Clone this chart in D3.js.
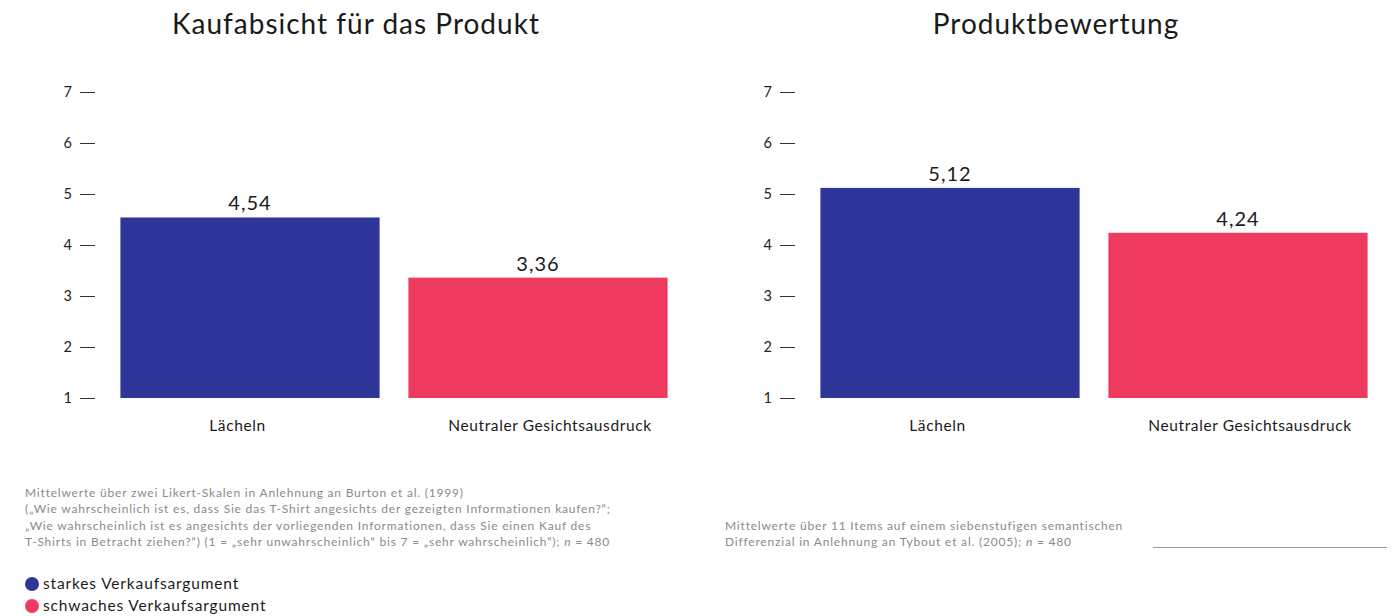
<!DOCTYPE html>
<html>
<head>
<meta charset="utf-8">
<script src="https://cdn.jsdelivr.net/npm/d3@7"></script>
<style>
  body { margin: 0; background: #fff; }
  svg { font-family: Lato, "Open Sans", sans-serif; }
</style>
</head>
<body>
<svg width="1395" height="616"></svg>
<script>
const categories = ['Lächeln', 'Neutraler Gesichtsausdruck']
const kaufabsicht = [4.54, 3.36]
const bewertung = [5.12, 4.24]
const titles = ['Kaufabsicht für das Produkt', 'Produktbewertung']
const yTicks = [1, 2, 3, 4, 5, 6, 7]
const legendLabels = ['starkes Verkaufsargument', 'schwaches Verkaufsargument']
// each line split into parts, the middle part (if any) is the italic n
const notesLeft = [
  ['Mittelwerte über zwei Likert-Skalen in Anlehnung an Burton et al. (1999)'],
  ['(„Wie wahrscheinlich ist es, dass Sie das T-Shirt angesichts der gezeigten Informationen kaufen?“;'],
  ['„Wie wahrscheinlich ist es angesichts der vorliegenden Informationen, dass Sie einen Kauf des'],
  ['T-Shirts in Betracht ziehen?“)  (1 = „sehr unwahrscheinlich“ bis 7 = „sehr wahrscheinlich“); ', 'n', ' = 480']
]
const notesRight = [
  ['Mittelwerte über 11 Items auf einem siebenstufigen semantischen'],
  ['Differenzial in Anlehnung an Tybout et al. (2005); ', 'n', ' = 480']
]

const colors = ['#2f3699', '#ee3a5e']
const svg = d3.select('svg')

let y = d3.scaleLinear().domain([1, 7]).range([398, 92])

function drawPanel(offset, title, values) {
  let g = svg.append('g').attr('transform', `translate(${offset},0)`)

  let x = d3.scaleBand()
    .domain(categories)
    .range([106, 682])
    .paddingInner(0.1)
    .paddingOuter(0.05)

  // category labels sit a bit further apart than the bars
  let xLabel = d3.scalePoint()
    .domain(categories)
    .range([237.5, 550])

  g.append('text')
    .attr('x', 356).attr('y', 34)
    .attr('text-anchor', 'middle')
    .attr('font-size', 28)
    .attr('letter-spacing', 1)
    .attr('fill', '#1a1a1a')
    .text(title)

  let axis = g.append('g')
    .attr('transform', 'translate(95,0)')
    .call(d3.axisLeft(y).tickValues(yTicks).tickFormat(d3.format('d')).tickSize(15).tickPadding(8))
  axis.select('.domain').remove()
  axis.selectAll('line').attr('stroke', '#333')
  axis.selectAll('text').attr('font-size', 14.5).attr('fill', '#222')
    .attr('font-family', 'Lato, sans-serif')

  g.selectAll('rect.bar')
    .data(values)
    .enter().append('rect')
    .attr('class', 'bar')
    .attr('x', (d, i) => x(categories[i]))
    .attr('width', x.bandwidth())
    .attr('y', d => y(d))
    .attr('height', d => y(1) - y(d))
    .attr('fill', (d, i) => colors[i])

  g.selectAll('text.val')
    .data(values)
    .enter().append('text')
    .attr('class', 'val')
    .attr('x', (d, i) => x(categories[i]) + x.bandwidth() / 2)
    .attr('y', d => y(d) - 7)
    .attr('text-anchor', 'middle')
    .attr('font-size', 20)
    .attr('letter-spacing', 1)
    .attr('fill', '#1a1a1a')
    .text(d => d.toFixed(2).replace('.', ','))

  g.selectAll('text.cat')
    .data(categories)
    .enter().append('text')
    .attr('class', 'cat')
    .attr('x', d => xLabel(d))
    .attr('y', 431)
    .attr('text-anchor', 'middle')
    .attr('font-size', 15.5)
    .attr('letter-spacing', 0.6)
    .attr('fill', '#1a1a1a')
    .text(d => d)
}

drawPanel(0, titles[0], kaufabsicht)
drawPanel(700, titles[1], bewertung)

function drawNotes(x0, y0, lines) {
  let t = svg.append('text')
    .attr('font-size', 12)
    .attr('letter-spacing', 0.8)
    .attr('fill', '#8a8a8a')
  lines.forEach((parts, i) => {
    parts.forEach((p, j) => {
      let s = t.append('tspan').text(p)
      if (j === 0) s.attr('x', x0).attr('y', y0 + i * 16.3)
      if (j === 1) s.attr('font-style', 'italic')
    })
  })
}

drawNotes(25, 497, notesLeft)
drawNotes(725, 530, notesRight)

svg.append('line')
  .attr('x1', 1153).attr('x2', 1387)
  .attr('y1', 547.5).attr('y2', 547.5)
  .attr('stroke', '#999').attr('stroke-width', 1)

let legend = svg.append('g')
legendLabels.forEach((l, i) => {
  legend.append('circle')
    .attr('cx', 32).attr('cy', 584 + i * 22)
    .attr('r', 7)
    .attr('fill', colors[i])
  legend.append('text')
    .attr('x', 43).attr('y', 589 + i * 22)
    .attr('font-size', 15.5)
    .attr('letter-spacing', 0.85)
    .attr('fill', '#1a1a1a')
    .text(l)
})
</script>
</body>
</html>
